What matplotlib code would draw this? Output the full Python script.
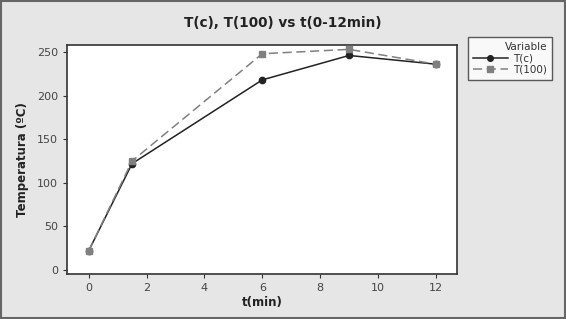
import matplotlib.pyplot as plt
from matplotlib.patches import Rectangle

# data
t_min = [0, 1.5, 6, 9, 12]
t_c = [22, 122, 218, 246, 236]
t_100 = [22, 125, 248, 253, 236]
xticks = [0, 2, 4, 6, 8, 10, 12]
yticks = [0, 50, 100, 150, 200, 250]

bg = '#e6e6e6'
fig = plt.figure(figsize=(5.66, 3.19), dpi=100, facecolor=bg)
ax = fig.add_axes([67/566, 1 - 274/319, (457 - 67)/566, (274 - 45)/319])
ax.set_facecolor('white')

ax.plot(t_min, t_c, color='#222222', lw=1.1, marker='o', ms=4.5, label='T(c)', zorder=2)
ax.plot(t_min, t_100, color='#808080', lw=1.1, ls=(0, (6, 3)), marker='s', ms=4.5,
        label='T(100)', zorder=3)

ax.set_xlim(-0.75, 12.73)
ax.set_ylim(-4.6, 258)
ax.set_xticks(xticks)
ax.set_yticks(yticks)
ax.tick_params(colors='#333333', labelcolor='#444444', labelsize=8, length=3, width=0.8)
for s in ax.spines.values():
    s.set_color('#333333')
    s.set_linewidth(1.2)

ax.set_xlabel('t(min)', fontsize=8.5, fontweight='bold', color='#222222', labelpad=2)
ax.set_ylabel('Temperatura (ºC)', fontsize=8.5, fontweight='bold', color='#222222', labelpad=6)
fig.text(0.5, 1 - 23/319, 'T(c), T(100) vs t(0-12min)', ha='center', va='center',
         fontsize=9.8, fontweight='bold', color='#222222')

leg = fig.legend(loc='upper left', bbox_to_anchor=(468/566, 1 - 37/319), title='Variable',
                 fontsize=7.5, title_fontsize=7.5, frameon=True, fancybox=False,
                 handlelength=3.4, borderpad=0.45, labelspacing=0.15, handletextpad=0.5,
                 borderaxespad=0, alignment='right', markerscale=0.9)
leg.get_frame().set_edgecolor('#333333')
leg.get_frame().set_linewidth(1.0)
leg.get_frame().set_facecolor('white')
for txt in leg.get_texts():
    txt.set_color('#333333')
leg.get_title().set_color('#333333')

fig.patches.append(Rectangle((0.001, 0.003), 0.998, 0.994, transform=fig.transFigure,
                             fill=False, edgecolor='#666666', lw=1.5))

fig.savefig('out.png', dpi=100, facecolor=bg)
